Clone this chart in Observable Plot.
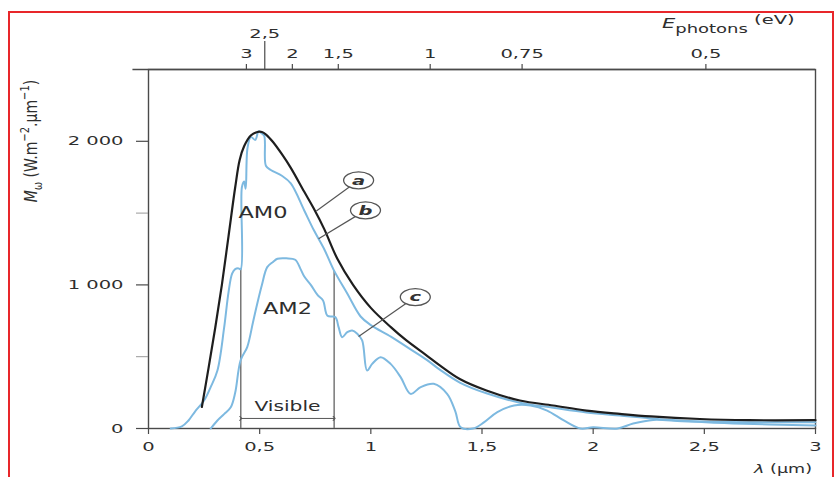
<!DOCTYPE html>
<html><head><meta charset="utf-8">
<script src="https://cdn.jsdelivr.net/npm/d3@7"></script>
<script src="https://cdn.jsdelivr.net/npm/@observablehq/plot@0.6"></script>
<style>
html,body{margin:0;padding:0;background:#fff;}
#wrap{position:relative;width:836px;height:477px;overflow:hidden;background:#fff;}
#chart{position:absolute;left:0;top:0;}
#border{position:absolute;left:8px;top:11px;width:826px;height:520px;border:2px solid #e8262a;box-sizing:border-box;pointer-events:none;}
</style></head>
<body><div id="wrap"><div id="chart"></div><div id="border"></div></div>
<script>
// ---- axis ticks ----
const xTicks = [0, 0.5, 1, 1.5, 2, 2.5, 3];
const xTickLabels = ["0", "0,5", "1", "1,5", "2", "2,5", "3"];
const yTicks = [0, 1000, 2000];
const yTickLabels = ["0", "1 000", "2 000"];
const yMinorTicks = [500, 1500];
const energyTicks = [3, 2, 1.5, 1, 0.75, 0.5];
const energyTickLabels = ["3", "2", "1,5", "1", "0,75", "0,5"];
const energyLongTicks = [2.5];
const energyLongTickLabels = ["2,5"];
const hc = 1.24; // eV·µm, λ = hc / E

// ---- (a) black body curve ----
const lambdaA = [0.24,0.27,0.30,0.33,0.36,0.39,0.41,0.43,0.46,0.49,0.51,0.53,0.56,0.60,0.64,0.70,0.744,0.79,0.85,0.92,1.00,1.09,1.16,1.25,1.31,1.40,1.52,1.67,1.82,1.97,2.12,2.26,2.48,2.70,3.00];
const valuesA = [150,420,700,1000,1340,1680,1870,1965,2040,2065,2065,2045,1995,1910,1815,1650,1530,1390,1180,1000,840,706,613,510,440,345,265,195,160,125,102,84,66,58,58];

// ---- (b) AM0 ----
const lambdaB = [0.10,0.15,0.18,0.21,0.25,0.28,0.31,0.34,0.36,0.376,0.39,0.405,0.415,0.42,0.43,0.437,0.445,0.46,0.48,0.495,0.505,0.52,0.528,0.55,0.60,0.64,0.70,0.744,0.79,0.834,0.894,0.954,1.00,1.09,1.16,1.25,1.31,1.40,1.52,1.67,1.82,1.97,2.12,2.30,2.50,2.75,3.00];
const valuesB = [0,15,56,120,195,290,404,700,950,1078,1110,1115,1110,1680,1720,1670,1950,2030,2010,2070,2060,2040,1830,1800,1760,1707,1520,1380,1250,1101,940,780,720,640,570,480,410,320,245,180,145,112,90,65,48,44,44];

// ---- (c) AM2 ----
const lambdaC = [0.28,0.31,0.34,0.37,0.39,0.414,0.444,0.47,0.489,0.51,0.534,0.56,0.58,0.62,0.66,0.684,0.70,0.73,0.76,0.785,0.805,0.84,0.855,0.871,0.894,0.916,0.939,0.961,0.983,1.006,1.044,1.089,1.134,1.179,1.224,1.283,1.343,1.38,1.404,1.46,1.51,1.569,1.644,1.718,1.793,1.868,1.943,2.0,2.11,2.18,2.27,2.40,2.63,3.00];
const valuesC = [0,56,100,148,250,474,567,740,869,1000,1124,1160,1182,1185,1175,1110,1060,1000,930,892,785,776,706,636,671,683,660,613,404,450,497,450,358,241,288,311,241,120,9,0,44,114,160,160,125,56,0,9,0,35,60,50,35,21];

// ---- annotations ----
const curveLabelTexts = ["AM0", "AM2"];
const curveLabelLambda = [0.515, 0.625];
const curveLabelValue = [1498, 829];
const visibleBounds = [0.415, 0.835];
const visibleTops = [1115, 1100];
const visibleArrowValue = 70;
const visibleText = "Visible";
const visibleTextValue = 150;
const markerKeys = ["a", "b", "c"];
const markerLambda = [0.945, 0.976, 1.20];
const markerValue = [1728, 1519, 915];
const leaderLambda = [0.755, 0.765, 0.945];
const leaderValue = [1515, 1322, 640];

const S = 1.5; // horizontal text stretch of the reference

const toRows = (ls, vs) => ls.map((l, i) => ({l, v: vs[i]}));
const A = toRows(lambdaA, valuesA), B = toRows(lambdaB, valuesB), C = toRows(lambdaC, valuesC);
const xLab = new Map(xTicks.map((t, i) => [t, xTickLabels[i]]));
const yLab = new Map(yTicks.map((t, i) => [t, yTickLabels[i]]));
const eTickPos = energyTicks.map(E => hc / E);
const eLab = new Map(eTickPos.map((p, i) => [p, energyTickLabels[i]]));
const eLongPos = energyLongTicks.map(E => hc / E);
const eLongLab = new Map(eLongPos.map((p, i) => [p, energyLongTickLabels[i]]));
const markers = markerKeys.map((k, i) => ({k, l: markerLambda[i], v: markerValue[i], tl: leaderLambda[i], tv: leaderValue[i]}));
const curveLabels = curveLabelTexts.map((t, i) => ({t, l: curveLabelLambda[i], v: curveLabelValue[i]}));
const visRows = visibleBounds.map((b, i) => ({b, top: visibleTops[i]}));

const k = 0.5523, rx = 15, ry = 8.5;
const ellipse = {draw(ctx) {
  ctx.moveTo(rx, 0);
  ctx.bezierCurveTo(rx, ry * k, rx * k, ry, 0, ry);
  ctx.bezierCurveTo(-rx * k, ry, -rx, ry * k, -rx, 0);
  ctx.bezierCurveTo(-rx, -ry * k, -rx * k, -ry, 0, -ry);
  ctx.bezierCurveTo(rx * k, -ry, rx, -ry * k, rx, 0);
  ctx.closePath();
}};

const blue = "#7db9e0";
const axisCol = "#4a4a4a";
const txt = "#2e2e2e";

const chart = Plot.plot({
  width: 836, height: 477,
  marginLeft: 148, marginRight: 21, marginTop: 69, marginBottom: 49,
  x: {domain: [0, 3]},
  y: {domain: [0, 2500]},
  style: {fontFamily: "'DejaVu Sans', sans-serif", fontSize: "13px", color: txt, background: "transparent", overflow: "visible"},
  marks: [
    Plot.frame({stroke: axisCol, strokeWidth: 1.4}),
    Plot.ruleY([2500], {x1: -0.07, x2: 3, stroke: axisCol, strokeWidth: 1.4}),
    Plot.axisX(xTicks, {anchor: "bottom", tickSize: 6, tickPadding: 7, tickFormat: d => xLab.get(d), label: null, stroke: axisCol, strokeWidth: 1.2, fill: txt}),
    Plot.axisY(yTicks, {anchor: "left", tickSize: 12, tickPadding: 13, tickFormat: d => yLab.get(d), label: null, stroke: axisCol, strokeWidth: 1.2, fill: txt}),
    Plot.axisY(yMinorTicks, {anchor: "left", tickSize: 12, tickFormat: () => "", label: null, stroke: "#999", strokeWidth: 1}),
    Plot.axisX(eTickPos, {anchor: "top", tickSize: 6, tickPadding: 6, tickFormat: d => eLab.get(d), label: null, dx: 6, stroke: axisCol, strokeWidth: 1.2, fill: txt}),
    Plot.axisX(eLongPos, {anchor: "top", tickSize: 29, tickPadding: 3, tickFormat: d => eLongLab.get(d), label: null, dx: 6, stroke: axisCol, strokeWidth: 1.2, fill: txt}),
    // visible band
    Plot.ruleX(visRows, {x: "b", y1: 0, y2: "top", stroke: "#777", strokeWidth: 1.5}),
    Plot.link([visibleBounds], {x1: d => d[0], x2: d => d[1], y1: () => visibleArrowValue, y2: () => visibleArrowValue, stroke: "#555", strokeWidth: 1, markerStart: "arrow", markerEnd: "arrow"}),
    Plot.text([visibleText], {x: () => (visibleBounds[0] + visibleBounds[1]) / 2, y: () => visibleTextValue, text: d => d, fontSize: 13.5, fill: txt}),
    // curves
    Plot.line(C, {x: "l", y: "v", stroke: blue, strokeWidth: 2, curve: "catmull-rom"}),
    Plot.line(B, {x: "l", y: "v", stroke: blue, strokeWidth: 2, curve: "catmull-rom"}),
    Plot.line(A, {x: "l", y: "v", stroke: "#1e1e1e", strokeWidth: 2.2, curve: "catmull-rom"}),
    // labels
    Plot.text(curveLabels, {x: "l", y: "v", text: "t", fontSize: 15, fill: txt}),
    Plot.link(markers, {x1: "l", y1: "v", x2: "tl", y2: "tv", stroke: "#555", strokeWidth: 1.2}),
    Plot.dot(markers, {x: "l", y: "v", symbol: ellipse, fill: "white", stroke: "#555", strokeWidth: 1.3}),
    Plot.text(markers, {x: "l", y: "v", text: "k", fontSize: 13, fontStyle: "italic", fontWeight: "bold", fill: "#333"})
  ]
});

// reproduce the horizontal stretching of the reference lettering
chart.querySelectorAll("text").forEach(t => {
  const tr = t.getAttribute("transform");
  if (tr) t.setAttribute("transform", tr + ` scale(${S},1)`);
  else {
    const x = +t.getAttribute("x") || 0;
    t.setAttribute("transform", `translate(${x},0) scale(${S},1) translate(${-x},0)`);
  }
});

const svg = d3.select(chart);
// y-axis title
const yt = svg.append("text")
  .attr("transform", `translate(37,141) scale(1.3,1) rotate(-90)`)
  .attr("text-anchor", "middle").attr("font-size", 14).attr("fill", txt)
  .attr("font-family", "'DejaVu Sans', sans-serif");
yt.append("tspan").attr("font-style", "italic").text("M");
yt.append("tspan").attr("font-size", 10).attr("dy", 4).text("ω");
yt.append("tspan").attr("dy", -4).text(" (W.m");
yt.append("tspan").attr("font-size", 10).attr("dy", -6).text("−2");
yt.append("tspan").attr("dy", 6).text(".µm");
yt.append("tspan").attr("font-size", 10).attr("dy", -6).text("−1");
yt.append("tspan").attr("dy", 6).text(")");

// top axis title
const et = svg.append("text")
  .attr("transform", `translate(662,28) scale(${S},1)`)
  .attr("text-anchor", "start")
  .attr("font-size", 14).attr("fill", txt).attr("font-family", "'DejaVu Sans', sans-serif");
et.append("tspan").attr("font-style", "italic").text("E");
et.append("tspan").attr("font-size", 12).attr("dy", 5).text("photons");
et.append("tspan").attr("font-size", 13).attr("dy", -9).text(" (eV)");

// bottom axis title
const xt = svg.append("text")
  .attr("transform", `translate(812,473) scale(1.35,1)`)
  .attr("text-anchor", "end").attr("font-size", 13).attr("fill", txt).attr("font-family", "'DejaVu Sans', sans-serif");
xt.append("tspan").attr("font-style", "italic").text("λ");
xt.append("tspan").text(" (µm)");

document.getElementById("chart").appendChild(chart);
</script>
</body></html>
